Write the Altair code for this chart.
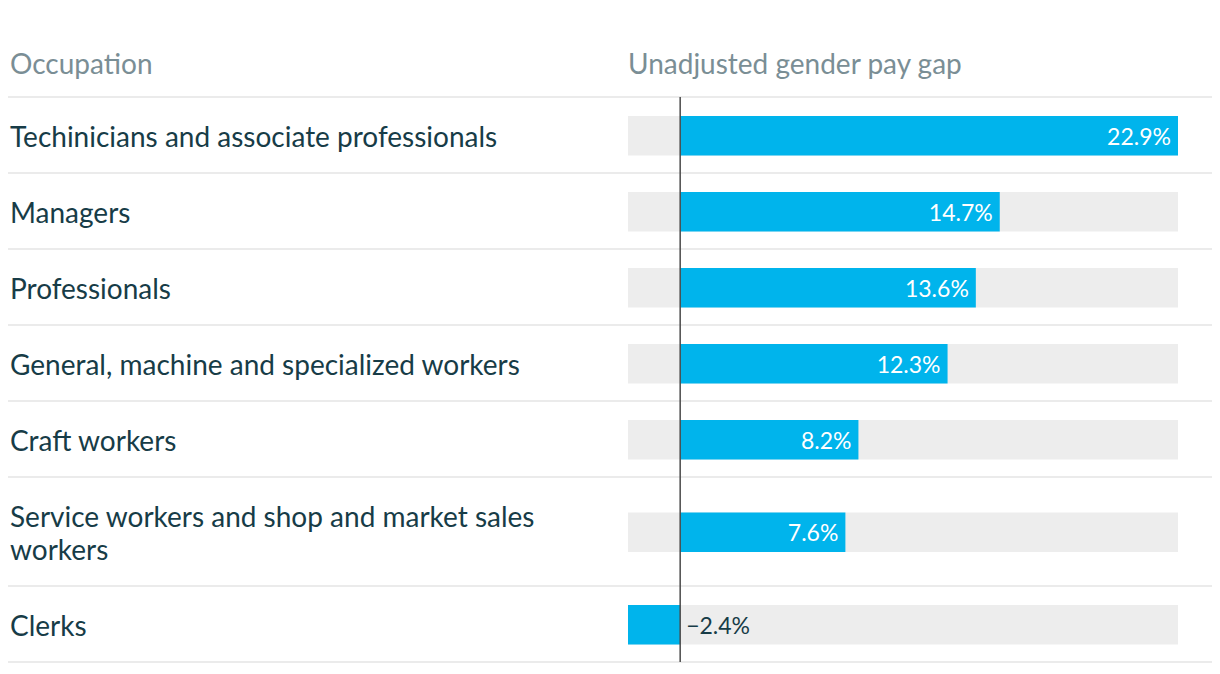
import altair as alt
import pandas as pd

occupations = [
    "Techinicians and associate professionals",
    "Managers",
    "Professionals",
    "General, machine and specialized workers",
    "Craft workers",
    "Service workers and shop and market sales\nworkers",
    "Clerks",
]
gaps = [22.9, 14.7, 13.6, 12.3, 8.2, 7.6, -2.4]
headers = ["Occupation", "Unadjusted gender pay gap"]

W, H = 1204, 658
HEADER_H = 89
ROW_H = 76
LINE_H = 33
X_MIN, X_MAX = -2.4, 22.9

rows = []
top = HEADER_H
for i, (occ, g) in enumerate(zip(occupations, gaps)):
    n_lines = occ.count("\n") + 1
    h = ROW_H + LINE_H * (n_lines - 1)
    c = top + h / 2
    rows.append({
        "occupation": occ,
        "gap": g,
        "top": top,
        "bottom": top + h,
        "center": c + 2.5,
        "text_y": c + 4 - LINE_H * (n_lines - 1) / 2,
        "bar_top": c - 19,
        "bar_bottom": c + 20.5,
        "label": f"{g:.1f}%".replace("-", "\u2212"),
        "bg_min": X_MIN,
        "bg_max": X_MAX,
        "zero": 0,
    })
    top += h
df = pd.DataFrame(rows)
body_bottom = top
seps = pd.DataFrame({"y": [HEADER_H] + [r["bottom"] for r in rows]})

yscale = alt.Scale(domain=[0, H], range=[0, H])
xscale = alt.Scale(domain=[X_MIN, X_MAX], range=[620, 1170])

base = alt.Chart(df)

separators = alt.Chart(seps).mark_rule(color="#ebebeb", strokeWidth=2).encode(
    x=alt.value(0), x2=alt.value(W),
    y=alt.Y("y:Q", scale=yscale, axis=None),
)

bg = base.mark_rect(color="#ededed").encode(
    x=alt.X("bg_min:Q", scale=xscale, axis=None),
    x2="bg_max:Q",
    y=alt.Y("bar_top:Q", scale=yscale, axis=None),
    y2="bar_bottom:Q",
)

bars = base.mark_rect(color="#00b4ec").encode(
    x=alt.X("zero:Q", scale=xscale, axis=None),
    x2="gap:Q",
    y=alt.Y("bar_top:Q", scale=yscale, axis=None),
    y2="bar_bottom:Q",
)

zero_line = alt.Chart(pd.DataFrame({"z": [0], "t": [HEADER_H], "b": [body_bottom]})).mark_rule(
    color="#4a4a4a", strokeWidth=1.5
).encode(
    x=alt.X("z:Q", scale=xscale, axis=None),
    y=alt.Y("t:Q", scale=yscale, axis=None),
    y2="b:Q",
)

occ_text = base.mark_text(
    align="left", baseline="middle", font="Lato", fontSize=28,
    color="#173c47", lineBreak="\n", lineHeight=LINE_H,
).encode(
    x=alt.value(2),
    y=alt.Y("text_y:Q", scale=yscale, axis=None),
    text="occupation:N",
)

pos_labels = base.transform_filter("datum.gap > 0").mark_text(
    align="right", baseline="middle", font="Lato", fontSize=23, color="white", dx=-7,
).encode(
    x=alt.X("gap:Q", scale=xscale, axis=None),
    y=alt.Y("center:Q", scale=yscale, axis=None),
    text="label:N",
)

neg_labels = base.transform_filter("datum.gap <= 0").mark_text(
    align="left", baseline="middle", font="Lato", fontSize=23, color="#173c47", dx=6,
).encode(
    x=alt.X("zero:Q", scale=xscale, axis=None),
    y=alt.Y("center:Q", scale=yscale, axis=None),
    text="label:N",
)

hdr_df = pd.DataFrame({"text": headers})
hdr1 = alt.Chart(hdr_df.iloc[[0]]).mark_text(
    align="left", baseline="middle", font="Lato", fontSize=28, color="#7a8e95",
).encode(x=alt.value(2), y=alt.value(58), text="text:N")
hdr2 = alt.Chart(hdr_df.iloc[[1]]).mark_text(
    align="left", baseline="middle", font="Lato", fontSize=28, color="#7a8e95",
).encode(x=alt.value(620), y=alt.value(58), text="text:N")

chart = alt.layer(
    separators, bg, bars, zero_line, occ_text, pos_labels, neg_labels, hdr1, hdr2
).properties(
    width=W, height=H, padding=0, autosize=alt.AutoSizeParams(type="none"),
).configure_view(stroke=None)

chart.save("out.html", embed_options={"renderer": "svg", "actions": False})
